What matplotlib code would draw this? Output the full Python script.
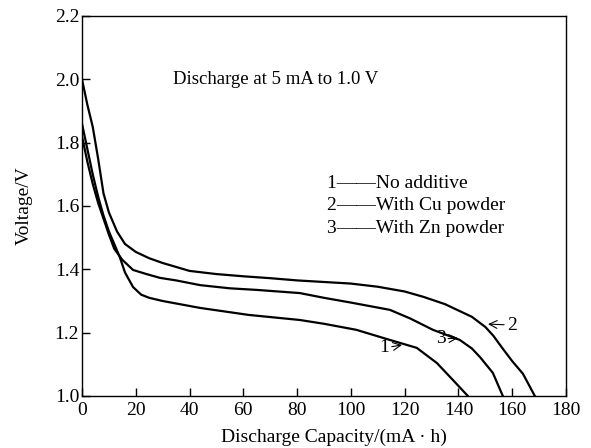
import matplotlib
matplotlib.use("Agg")
import matplotlib.pyplot as plt

# curve 1: no additive
cap_1 = [0, 2, 4, 6, 8, 10, 12, 14, 16, 19, 22, 25, 30, 44, 62, 81, 90, 102,
         114.5, 124.5, 132, 138, 142.4, 143.5]
volt_1 = [1.86, 1.78, 1.70, 1.63, 1.57, 1.52, 1.48, 1.44, 1.39, 1.344, 1.32,
          1.31, 1.30, 1.278, 1.256, 1.24, 1.228, 1.209, 1.177, 1.152, 1.104,
          1.05, 1.01, 1.0]

# curve 2: with Cu powder
cap_2 = [0, 1, 2, 4, 6, 8, 10, 13, 16, 20, 25, 30, 40, 50, 60, 70, 80, 90, 100,
         110, 120, 127, 135, 140, 145, 150, 153, 156, 160, 164, 168.4]
volt_2 = [2.00, 1.96, 1.92, 1.85, 1.75, 1.64, 1.58, 1.52, 1.48, 1.455, 1.435,
          1.42, 1.395, 1.385, 1.378, 1.372, 1.365, 1.36, 1.355, 1.345, 1.33,
          1.313, 1.29, 1.27, 1.25, 1.218, 1.19, 1.155, 1.11, 1.07, 1.0]

# curve 3: with Zn powder
cap_3 = [0, 2, 4, 6, 8, 10, 12, 15, 19, 24, 29, 35, 44, 55, 65, 81, 90, 100,
         114.5, 122, 130.5, 140.5, 145, 148, 152.8, 156.5]
volt_3 = [1.82, 1.74, 1.67, 1.61, 1.56, 1.51, 1.465, 1.43, 1.398, 1.385, 1.373,
          1.365, 1.35, 1.34, 1.335, 1.325, 1.31, 1.295, 1.272, 1.245, 1.209,
          1.177, 1.15, 1.123, 1.073, 1.0]

legend_lines = ["1\u2014\u2014No additive", "2\u2014\u2014With Cu powder",
                "3\u2014\u2014With Zn powder"]

plt.rcParams["font.family"] = ["Liberation Serif", "DejaVu Serif"]

fig = plt.figure(figsize=(5.91, 4.48), dpi=100)
ax = fig.add_axes([0.1387, 0.1161, 0.819, 0.8482])

for cap, volt in [(cap_1, volt_1), (cap_2, volt_2), (cap_3, volt_3)]:
    ax.plot(cap, volt, color="black", linewidth=1.6)

ax.set_xlim(0, 180)
ax.set_ylim(1.0, 2.2)
ax.set_xticks(range(0, 181, 20))
ax.set_yticks([1.0, 1.2, 1.4, 1.6, 1.8, 2.0, 2.2])
ax.set_yticklabels(["1.0", "1.2", "1.4", "1.6", "1.8", "2.0", "2.2"])
ax.tick_params(direction="in", length=6, width=1, labelsize=14)
ax.tick_params(axis="x", pad=4)
ax.tick_params(axis="y", pad=2)
for spine in ax.spines.values():
    spine.set_linewidth(1)

ax.set_xlabel("Discharge Capacity/(mA \u00b7 h)", fontsize=14)
ax.xaxis.set_label_coords(0.52, -0.085)
ax.set_ylabel("Voltage/V", fontsize=14)
ax.yaxis.set_label_coords(-0.102, 0.5)

ax.text(33.8, 2.0, "Discharge at 5 mA to 1.0 V", fontsize=13.5, va="center")
for i, line in enumerate(legend_lines):
    ax.text(91, 1.67 - i * 0.07, line, fontsize=14, va="center")

arrow = dict(arrowstyle="->", color="black", lw=0.8, shrinkA=0, shrinkB=0)
ax.annotate("1", xy=(119, 1.161), xytext=(110.5, 1.152), fontsize=14,
            va="center", arrowprops=arrow)
ax.annotate("3", xy=(139.8, 1.183), xytext=(131.5, 1.18), fontsize=14,
            va="center", arrowprops=arrow)
ax.annotate("2", xy=(151, 1.227), xytext=(158, 1.224), fontsize=14,
            va="center", arrowprops=arrow)

fig.savefig("out.png", dpi=100)
plt.close(fig)
